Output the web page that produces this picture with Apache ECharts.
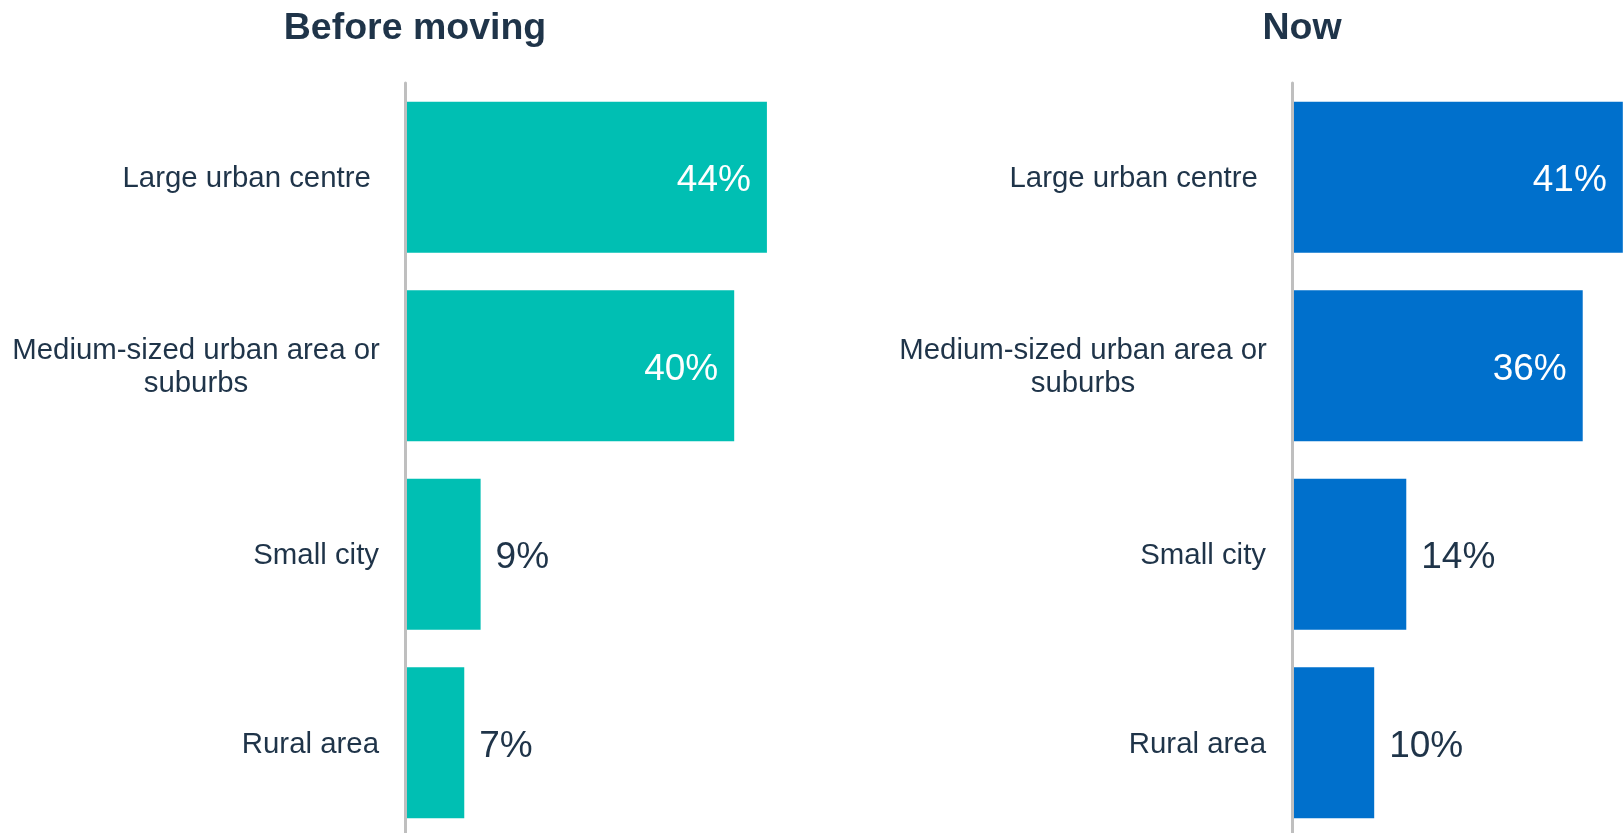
<!DOCTYPE html>
<html>
<head>
<meta charset="utf-8">
<script src="https://cdn.jsdelivr.net/npm/echarts@6/dist/echarts.min.js"></script>
<style>
  html, body { margin: 0; padding: 0; background: #ffffff; }
  #chart { width: 1623px; height: 833px; }
</style>
</head>
<body>
<div id="chart"></div>
<script>
const categories = ['Large urban centre ', 'Medium-sized urban area or\nsuburbs', 'Small city', 'Rural area'];
const panelTitles = ['Before moving', 'Now'];
const beforeValues = [44, 40, 9, 7];
const nowValues = [41, 36, 14, 10];

const FONT = "'Liberation Sans', Arial, sans-serif";
const DARK = '#1f3449';
const colors = ['#00bfb3', '#0070cc'];

const chart = echarts.init(document.getElementById('chart'), null, { renderer: 'canvas' });

function catFormatter(v) {
  const lines = v.split('\n');
  if (lines.length > 1) return lines.map(l => '{m|' + l + '}').join('\n');
  return v;
}

function makeData(values) {
  return values.map(v => {
    const inside = v >= 20;
    return {
      value: v,
      label: {
        position: inside ? 'insideRight' : 'right',
        distance: inside ? 16 : 15,
        color: inside ? '#ffffff' : DARK
      }
    };
  });
}

const grids = [
  { left: 407, top: 83, width: 409, height: 754, outerBoundsMode: 'none', containLabel: false },
  { left: 1294, top: 83, width: 401, height: 754, outerBoundsMode: 'none', containLabel: false }
];

const option = {
  backgroundColor: '#ffffff',
  animation: false,
  title: [
    { text: panelTitles[0], left: 415, top: 10, textAlign: 'center', padding: 0,
      textStyle: { fontFamily: FONT, fontSize: 37.5, fontWeight: 'bold', color: DARK } },
    { text: panelTitles[1], left: 1302, top: 10, textAlign: 'center', padding: 0,
      textStyle: { fontFamily: FONT, fontSize: 37.5, fontWeight: 'bold', color: DARK } }
  ],
  grid: grids,
  xAxis: [0, 1].map(i => ({
    type: 'value', gridIndex: i, min: 0, max: 50, show: false
  })),
  yAxis: [0, 1].map(i => ({
    type: 'category', gridIndex: i, data: categories, inverse: true, offset: 2,
    axisLine: { show: true, onZero: false, lineStyle: { color: '#bfbfbf', width: 3 } },
    axisTick: { show: false },
    splitLine: { show: false },
    axisLabel: {
      margin: 26, align: 'right', fontFamily: FONT, fontSize: 29.4, color: DARK, lineHeight: 33,
      padding: [4, 0, 0, 0],
      formatter: catFormatter,
      rich: { m: { width: 366, align: 'center', fontFamily: FONT, fontSize: 29.4, color: DARK, lineHeight: 33 } }
    }
  })),
  series: [beforeValues, nowValues].map((vals, i) => ({
    type: 'bar', xAxisIndex: i, yAxisIndex: i,
    data: makeData(vals),
    barCategoryGap: '20%',
    itemStyle: { color: colors[i] },
    label: {
      show: true, fontFamily: FONT, fontSize: 37, offset: [0, 4],
      formatter: p => p.value + '%'
    }
  }))
};

chart.setOption(option);
</script>
</body>
</html>
